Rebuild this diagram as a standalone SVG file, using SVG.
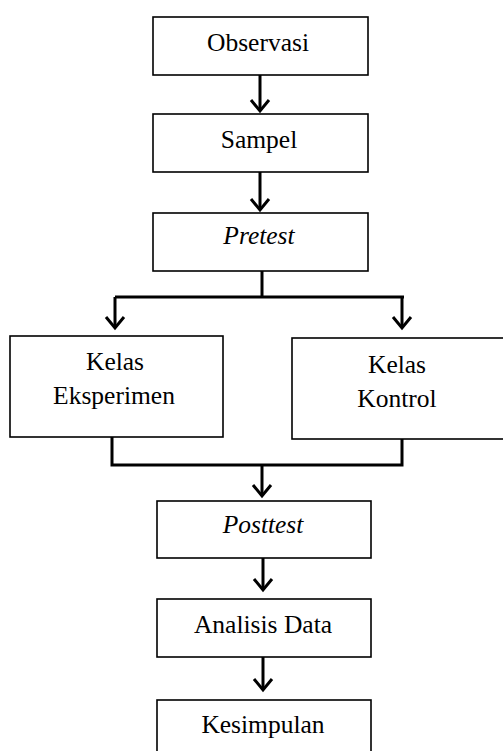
<svg xmlns="http://www.w3.org/2000/svg" width="503" height="751" viewBox="0 0 503 751">
<style>
.box{fill:#fff;stroke:#000;stroke-width:1.6}
.t{font-family:"Liberation Serif","Times New Roman",serif;font-size:25.5px;fill:#000;text-anchor:middle}
.i{font-style:italic}
.c{fill:none;stroke:#000;stroke-width:3}
</style>
<defs>
<marker id="ah" viewBox="-2 -11 16 22" refX="11" refY="0" markerWidth="16" markerHeight="22" markerUnits="userSpaceOnUse" orient="auto">
<path d="M0,-9 L11,0 L0,9" fill="none" stroke="#000" stroke-width="3"/>
</marker>
</defs>
<rect width="503" height="751" fill="#fff"/>
<g id="connectors">
<path class="c" d="M260,75 V111" marker-end="url(#ah)"/>
<path class="c" d="M260,172 V210" marker-end="url(#ah)"/>
<path class="c" d="M262,271 V297"/>
<path class="c" d="M115,297 H404"/>
<path class="c" d="M115,297 V328" marker-end="url(#ah)"/>
<path class="c" d="M402,297 V328" marker-end="url(#ah)"/>
<path class="c" d="M112,437 V465 H402 V439"/>
<path class="c" d="M262,465 V496" marker-end="url(#ah)"/>
<path class="c" d="M263,558 V590" marker-end="url(#ah)"/>
<path class="c" d="M263,657 V690" marker-end="url(#ah)"/>
</g>
<g id="observasi"><rect class="box" x="153" y="17" width="215" height="58"/><text class="t" x="258" y="51">Observasi</text></g>
<g id="sampel"><rect class="box" x="153" y="114" width="215" height="58"/><text class="t" x="259" y="148">Sampel</text></g>
<g id="pretest"><rect class="box" x="153" y="213" width="215" height="58"/><text class="t i" x="259" y="244">Pretest</text></g>
<g id="kelas-eksperimen"><rect class="box" x="10" y="336" width="213" height="101"/><text class="t" x="115" y="370">Kelas</text><text class="t" x="114" y="404">Eksperimen</text></g>
<g id="kelas-kontrol"><rect class="box" x="292" y="338" width="212" height="101"/><text class="t" x="397" y="373">Kelas</text><text class="t" x="397" y="407">Kontrol</text></g>
<g id="posttest"><rect class="box" x="157" y="501" width="214" height="57"/><text class="t i" x="263" y="533">Posttest</text></g>
<g id="analisis-data"><rect class="box" x="157" y="599" width="214" height="58"/><text class="t" x="263" y="633">Analisis Data</text></g>
<g id="kesimpulan"><rect class="box" x="157" y="700" width="214" height="60"/><text class="t" x="263" y="733">Kesimpulan</text></g>
</svg>
